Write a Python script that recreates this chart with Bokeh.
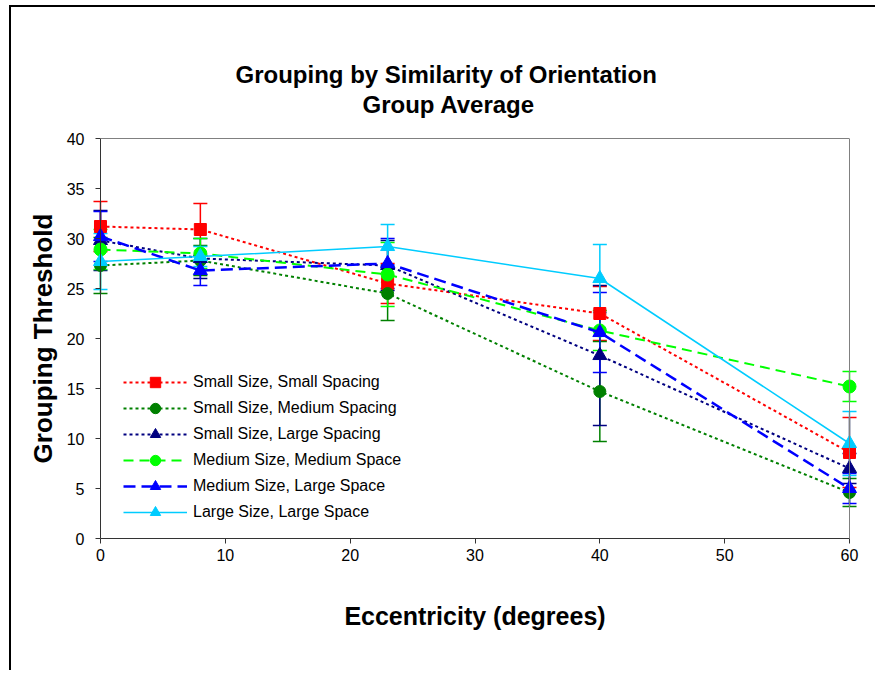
from bokeh.plotting import figure
from bokeh.models import (ColumnDataSource, Whisker, TeeHead, LinearAxis, Title,
                          Legend, LegendItem, Range1d, FixedTicker)
from bokeh.embed import file_html
from bokeh.resources import INLINE

# ---------------- data ----------------
eccentricity = [0, 8, 23, 40, 60]

labels = ["Small Size, Small Spacing", "Small Size, Medium Spacing",
          "Small Size, Large Spacing", "Medium Size, Medium Space",
          "Medium Size, Large Space", "Large Size, Large Space"]

small_small = [31.2, 30.9, 25.5, 22.5, 8.6]
small_small_err = [2.5, 2.6, 2.0, 2.7, 3.5]

small_medium = [27.3, 27.8, 24.5, 14.7, 4.6]
small_medium_err = [2.8, 1.5, 2.7, 5.0, 1.4]

small_large = [29.8, 28.0, 27.3, 18.3, 7.0]
small_large_err = [3.0, 2.0, 2.5, 7.0, 1.5]

medium_medium = [28.9, 28.5, 26.4, 20.8, 15.2]
medium_medium_err = [2.0, 1.5, 3.2, 2.0, 1.5]

medium_large = [30.2, 26.8, 27.5, 20.6, 5.0]
medium_large_err = [2.5, 1.5, 2.5, 4.0, 1.5]

large_large = [27.7, 28.2, 29.2, 26.0, 9.5]
large_large_err = [2.8, 1.0, 2.2, 3.4, 3.2]

x_ticks = [0, 10, 20, 30, 40, 50, 60]
y_ticks = [0, 5, 10, 15, 20, 25, 30, 35, 40]

title_main = "Grouping by Similarity of Orientation"
title_sub = "Group Average"

series = [
    (labels[0], small_small, small_small_err, "#FF0000", "square", 12, "3 3", 2.0),
    (labels[1], small_medium, small_medium_err, "#008000", "circle", 12, "3 3", 2.0),
    (labels[2], small_large, small_large_err, "#000080", "triangle", 14, "3 3", 2.0),
    (labels[3], medium_medium, medium_medium_err, "#00FF00", "circle", 13, "10 6", 2.0),
    (labels[4], medium_large, medium_large_err, "#0000FF", "triangle", 14, "12 6", 2.5),
    (labels[5], large_large, large_large_err, "#00CCFF", "triangle", 14, "solid", 1.5),
]

FONT = "Liberation Sans"

p = figure(width=866, height=665, output_backend="svg", toolbar_location=None,
           x_range=Range1d(-0.8, 60.8), y_range=Range1d(0, 40),
           min_border_left=79, min_border_right=18,
           min_border_top=131, min_border_bottom=134)
p.outline_line_color = None
p.grid.visible = False
p.background_fill_color = "white"
p.border_fill_color = "white"
p.styles = {"border-top": "2px solid #000000", "border-left": "2px solid #000000",
            "margin-left": "9px", "margin-top": "5px"}

# bottom axis
xa = p.xaxis[0]
xa.bounds = (0, 60)
xa.ticker = FixedTicker(ticks=x_ticks)
xa.axis_label = "Eccentricity (degrees)"
xa.axis_line_color = "#333333"
xa.major_tick_line_color = "#333333"
xa.major_tick_out = 5
xa.major_tick_in = 0
xa.axis_label_standoff = 38

# left axis: tick labels, ticks and title (sits at the frame edge)
ya = p.yaxis[0]
ya.ticker = FixedTicker(ticks=y_ticks)
ya.axis_label = "Grouping Threshold"
ya.axis_line_color = None
ya.major_tick_line_color = "#333333"
ya.major_tick_out = -5
ya.major_tick_in = 10
ya.major_label_standoff = 6
ya.axis_label_standoff = 6

for ax in (xa, ya):
    ax.minor_tick_line_color = None
    ax.major_label_text_font = FONT
    ax.major_label_text_font_size = "16px"
    ax.major_label_text_color = "#000000"
    ax.axis_label_text_font = FONT
    ax.axis_label_text_font_style = "bold"
    ax.axis_label_text_color = "#000000"
xa.axis_label_text_font_size = "25px"
ya.axis_label_text_font_size = "26px"

# y axis line at x = 0
y_line = LinearAxis(bounds=(0, 40), fixed_location=0, ticker=FixedTicker(ticks=[]),
                    axis_line_color="#333333", major_tick_line_color=None,
                    minor_tick_line_color=None)
p.add_layout(y_line, "right")

top_ax = LinearAxis(bounds=(0, 60), ticker=FixedTicker(ticks=[]),
                    axis_line_color="#808080", major_tick_line_color=None,
                    minor_tick_line_color=None)
p.add_layout(top_ax, "above")
right_ax = LinearAxis(bounds=(0, 40), fixed_location=60, ticker=FixedTicker(ticks=[]),
                      axis_line_color="#808080", major_tick_line_color=None,
                      minor_tick_line_color=None)
p.add_layout(right_ax, "right")

# titles (first added sits closest to the plot)
p.add_layout(Title(text=title_sub, align="left", text_font=FONT,
                   text_font_size="24px", text_font_style="bold",
                   text_color="#000000", offset=272, standoff=42), "above")
p.add_layout(Title(text=title_main, align="left",
                   text_font=FONT, text_font_size="24px", text_font_style="bold",
                   text_color="#000000", offset=145, standoff=-40), "above")

items = []
for label, ys, errs, color, marker, size, dash, lw in series:
    src = ColumnDataSource(dict(
        x=eccentricity, y=ys,
        upper=[a + b for a, b in zip(ys, errs)],
        lower=[a - b for a, b in zip(ys, errs)]))
    w = Whisker(base="x", upper="upper", lower="lower", source=src,
                line_color=color, line_width=1.5,
                upper_head=TeeHead(size=14, line_color=color, line_width=1.5),
                lower_head=TeeHead(size=14, line_color=color, line_width=1.5))
    p.add_layout(w)
    lr = p.line("x", "y", source=src, line_color=color, line_width=lw, line_dash=dash)
    sr = p.scatter("x", "y", source=src, marker=marker, size=size,
                   fill_color=color, line_color=color)
    items.append(LegendItem(label=label, renderers=[lr, sr]))

legend = Legend(items=items, location=(33, 13), border_line_color=None,
                background_fill_alpha=0, padding=0, margin=0, spacing=0,
                glyph_width=64, glyph_height=26, label_height=26,
                label_standoff=6, label_text_font=FONT,
                label_text_font_size="16px", label_text_color="#000000")
p.add_layout(legend, "center")

open("out.html", "w").write(file_html(p, INLINE))
